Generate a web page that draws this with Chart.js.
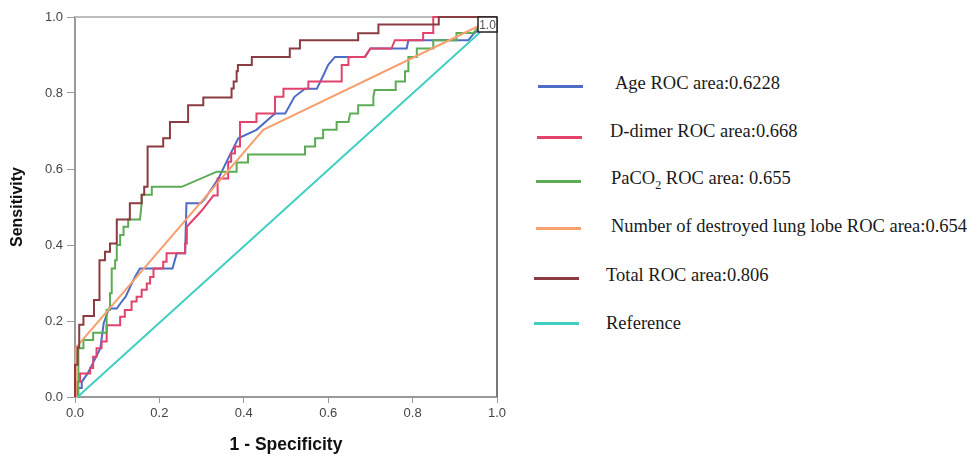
<!DOCTYPE html>
<html>
<head>
<meta charset="utf-8">
<script src="https://cdn.jsdelivr.net/npm/chart.js@4.4.1/dist/chart.umd.min.js"></script>
<style>
  body { margin: 0; background: #fff; width: 970px; height: 454px; overflow: hidden; position: relative; }
  #chart { position: absolute; left: 0; top: 0; }
  .swatch { position: absolute; height: 3px; width: 45px; }
  .label { position: absolute; font-family: "Liberation Serif", "Times New Roman", serif; font-size: 18.5px;
           line-height: 20px; color: #1a1a1a; white-space: nowrap; }
  .label sub { font-size: 12px; line-height: 0; }
</style>
</head>
<body>
<canvas id="chart" width="520" height="454"></canvas>
<div id="legend"></div>
<script>
// ROC points as [1 - specificity, sensitivity]
const ageRoc = [
  [0.005, 0], [0.005, 0.024], [0.016, 0.024], [0.016, 0.04], [0.03, 0.062], [0.04, 0.084],
  [0.05, 0.106], [0.06, 0.128], [0.068, 0.194], [0.075, 0.216], [0.08, 0.233], [0.099, 0.233],
  [0.11, 0.25], [0.12, 0.264], [0.142, 0.316], [0.154, 0.338], [0.231, 0.338], [0.241, 0.378],
  [0.261, 0.378], [0.264, 0.51], [0.298, 0.51], [0.308, 0.522], [0.34, 0.575], [0.363, 0.628],
  [0.387, 0.681], [0.43, 0.703], [0.474, 0.746], [0.498, 0.746], [0.51, 0.77], [0.52, 0.79],
  [0.545, 0.811], [0.573, 0.811], [0.59, 0.85], [0.6, 0.874], [0.616, 0.895], [0.687, 0.895],
  [0.7, 0.917], [0.786, 0.917], [0.79, 0.939], [0.932, 0.939], [0.944, 0.955], [0.958, 0.968]
];
const dDimerRoc = [
  [0.004, 0], [0.004, 0.04], [0.012, 0.04], [0.012, 0.062], [0.036, 0.062], [0.036, 0.076],
  [0.043, 0.076], [0.043, 0.106], [0.051, 0.106], [0.051, 0.128], [0.063, 0.128], [0.063, 0.146],
  [0.075, 0.146], [0.075, 0.189], [0.107, 0.189], [0.107, 0.211], [0.118, 0.211], [0.118, 0.229],
  [0.134, 0.229], [0.134, 0.251], [0.146, 0.251], [0.146, 0.264], [0.158, 0.264], [0.158, 0.282],
  [0.17, 0.282], [0.17, 0.299], [0.178, 0.299], [0.178, 0.316], [0.186, 0.316], [0.186, 0.338],
  [0.209, 0.338], [0.209, 0.356], [0.217, 0.356], [0.217, 0.378], [0.261, 0.378], [0.261, 0.404],
  [0.265, 0.404], [0.265, 0.448], [0.3, 0.49], [0.328, 0.53], [0.338, 0.53], [0.338, 0.575],
  [0.363, 0.575], [0.363, 0.619], [0.37, 0.619], [0.37, 0.641], [0.379, 0.641], [0.379, 0.659],
  [0.391, 0.659], [0.391, 0.724], [0.43, 0.724], [0.43, 0.746], [0.474, 0.746], [0.474, 0.79],
  [0.494, 0.79], [0.494, 0.811], [0.553, 0.811], [0.553, 0.83], [0.632, 0.83], [0.632, 0.874],
  [0.648, 0.874], [0.648, 0.895], [0.687, 0.895], [0.7, 0.917], [0.75, 0.917], [0.758, 0.939],
  [0.825, 0.939], [0.825, 0.958], [0.849, 0.958], [0.849, 1], [1, 1]
];
const paco2Roc = [
  [0.008, 0], [0.008, 0.128], [0.02, 0.128], [0.02, 0.15], [0.043, 0.15], [0.043, 0.169],
  [0.075, 0.169], [0.075, 0.229], [0.083, 0.229], [0.083, 0.273], [0.087, 0.273], [0.087, 0.338],
  [0.095, 0.338], [0.095, 0.36], [0.099, 0.36], [0.099, 0.4], [0.107, 0.4], [0.107, 0.426],
  [0.115, 0.426], [0.115, 0.448], [0.126, 0.448], [0.126, 0.467], [0.154, 0.467], [0.158, 0.51],
  [0.158, 0.532], [0.182, 0.532], [0.182, 0.553], [0.253, 0.553], [0.336, 0.593], [0.383, 0.593],
  [0.383, 0.617], [0.41, 0.617], [0.41, 0.638], [0.545, 0.638], [0.545, 0.659], [0.569, 0.659],
  [0.569, 0.681], [0.588, 0.681], [0.588, 0.703], [0.62, 0.703], [0.62, 0.724], [0.648, 0.724],
  [0.652, 0.746], [0.671, 0.746], [0.671, 0.768], [0.707, 0.768], [0.707, 0.79], [0.71, 0.808],
  [0.76, 0.808], [0.76, 0.83], [0.782, 0.83], [0.782, 0.857], [0.79, 0.857], [0.79, 0.895],
  [0.81, 0.895], [0.81, 0.917], [0.849, 0.917], [0.849, 0.939], [0.904, 0.939], [0.904, 0.958],
  [0.944, 0.958], [0.958, 0.975]
];
const lobeRoc = [[0, 0], [0.002, 0.13], [0.446, 0.703], [0.958, 0.977]];
const totalRoc = [
  [0, 0], [0, 0.085], [0.006, 0.085], [0.006, 0.13], [0.01, 0.13], [0.01, 0.19], [0.02, 0.19],
  [0.02, 0.213], [0.045, 0.213], [0.045, 0.255], [0.058, 0.255], [0.058, 0.36], [0.071, 0.36],
  [0.071, 0.382], [0.083, 0.382], [0.083, 0.404], [0.099, 0.404], [0.099, 0.467], [0.13, 0.467],
  [0.13, 0.51], [0.158, 0.51], [0.158, 0.532], [0.164, 0.532], [0.164, 0.553], [0.172, 0.553],
  [0.172, 0.659], [0.209, 0.659], [0.209, 0.681], [0.225, 0.681], [0.225, 0.724], [0.268, 0.724],
  [0.268, 0.768], [0.304, 0.768], [0.304, 0.788], [0.371, 0.788], [0.371, 0.812], [0.376, 0.812],
  [0.376, 0.83], [0.383, 0.83], [0.383, 0.857], [0.386, 0.857], [0.386, 0.874], [0.419, 0.874],
  [0.419, 0.895], [0.509, 0.895], [0.509, 0.917], [0.533, 0.917], [0.533, 0.939], [0.671, 0.939],
  [0.671, 0.957], [0.719, 0.957], [0.719, 0.98], [0.862, 0.98], [0.862, 1], [1, 1]
];
const referenceRoc = [[0.006, 0], [0.036, 0.03], [0.96, 0.96]];

const seriesNames = ['Age', 'D-dimer', 'PaCO2', 'Number of destroyed lung lobe', 'Total', 'Reference'];
const legendTexts = [
  'Age ROC area:0.6228',
  'D-dimer ROC area:0.668',
  'PaCO<sub>2</sub> ROC area: 0.655',
  'Number of destroyed lung lobe ROC area:0.654',
  'Total ROC area:0.806',
  'Reference'
];
const tickValues = [0, 0.2, 0.4, 0.6, 0.8, 1.0];

const colors = ['#4d6cc4', '#e2426b', '#5bac55', '#f5a06e', '#8a3c42', '#40cfc2'];
const allSeries = [ageRoc, dDimerRoc, paco2Roc, lobeRoc, totalRoc, referenceRoc];

// frame around the plot + the "1.0" box in the top right corner
const framePlugin = {
  id: 'frame',
  beforeDatasetsDraw(chart) {
    const { ctx, chartArea: a } = chart;
    ctx.save();
    ctx.strokeStyle = '#bdbdbd';
    ctx.lineWidth = 2;
    ctx.beginPath();
    ctx.moveTo(a.left, a.top);
    ctx.lineTo(a.right, a.top);
    ctx.stroke();
    ctx.strokeStyle = '#777';
    ctx.beginPath();
    ctx.moveTo(a.right, a.top);
    ctx.lineTo(a.right, a.bottom);
    ctx.stroke();
    ctx.restore();
  },
  afterDatasetsDraw(chart) {
    const { ctx, chartArea: a } = chart;
    ctx.save();
    const bx = chart.scales.x.getPixelForValue(0.955);
    const by = chart.scales.y.getPixelForValue(1);
    const bw = a.right - bx, bh = 15;
    ctx.fillStyle = '#fff';
    ctx.fillRect(bx, by, bw, bh);
    ctx.strokeStyle = '#222';
    ctx.lineWidth = 1.5;
    ctx.strokeRect(bx, by, bw, bh);
    ctx.fillStyle = '#555';
    ctx.font = '12px "Liberation Sans", Arial, sans-serif';
    ctx.textAlign = 'center';
    ctx.textBaseline = 'middle';
    ctx.fillText('1.0', bx + bw / 2, by + bh / 2 + 1);
    ctx.restore();
  }
};

const tickFont = { family: '"Liberation Sans", Arial, sans-serif', size: 13 };

new Chart(document.getElementById('chart'), {
  type: 'scatter',
  data: {
    datasets: allSeries.map((pts, i) => ({
      label: seriesNames[i],
      data: pts.map(p => ({ x: p[0], y: p[1] })),
      showLine: true,
      borderColor: colors[i],
      borderWidth: 2,
      pointRadius: 0,
      tension: 0,
      fill: false,
      clip: false
    })).reverse()
  },
  options: {
    responsive: false,
    animation: false,
    layout: { padding: { top: 17, right: 23, left: 0, bottom: 0 } },
    plugins: { legend: { display: false }, tooltip: { enabled: false } },
    scales: {
      x: {
        type: 'linear', min: 0, max: 1,
        afterFit(s) { s.height = 57; },
        afterBuildTicks(s) { s.ticks = tickValues.map(v => ({ value: v })); },
        ticks: { callback: v => v.toFixed(1), color: '#444', padding: 3, font: tickFont, maxRotation: 0 },
        grid: { drawOnChartArea: false, drawTicks: true, tickLength: 6, color: '#999' },
        border: { display: true, color: '#999', width: 2 },
        title: { display: true, text: '1 - Specificity', color: '#111',
                 font: { family: '"Liberation Sans", Arial, sans-serif', size: 17.5, weight: 'bold', lineHeight: 1 },
                 padding: { top: 0, bottom: 0 } }
      },
      y: {
        type: 'linear', min: 0, max: 1,
        afterFit(s) { s.width = 75; },
        afterBuildTicks(s) { s.ticks = tickValues.map(v => ({ value: v })); },
        ticks: { callback: v => v.toFixed(1), color: '#444', padding: 4, font: tickFont },
        grid: { drawOnChartArea: false, drawTicks: true, tickLength: 8, color: '#999' },
        border: { display: true, color: '#999', width: 2 },
        title: { display: true, text: 'Sensitivity', color: '#111',
                 font: { family: '"Liberation Sans", Arial, sans-serif', size: 16, weight: 'bold' },
                 padding: { top: 8, bottom: 0 } }
      }
    }
  },
  plugins: [framePlugin]
});

// legend on the right, as in the figure
const legendLayout = [
  { lineX: 538, lineY: 86, textX: 615, textY: 83 },
  { lineX: 537, lineY: 137, textX: 610, textY: 131 },
  { lineX: 536, lineY: 181, textX: 611, textY: 178 },
  { lineX: 536, lineY: 228, textX: 611, textY: 226 },
  { lineX: 534, lineY: 278, textX: 606, textY: 275 },
  { lineX: 534, lineY: 323, textX: 606, textY: 323 }
];
const legend = document.getElementById('legend');
legendTexts.forEach((t, i) => {
  const l = legendLayout[i];
  const sw = document.createElement('div');
  sw.className = 'swatch';
  sw.style.left = l.lineX + 'px';
  sw.style.top = (l.lineY - 1) + 'px';
  sw.style.background = colors[i];
  legend.appendChild(sw);
  const lb = document.createElement('div');
  lb.className = 'label';
  lb.style.left = l.textX + 'px';
  lb.style.top = (l.textY - 10) + 'px';
  lb.innerHTML = t;
  legend.appendChild(lb);
});
</script>
</body>
</html>
